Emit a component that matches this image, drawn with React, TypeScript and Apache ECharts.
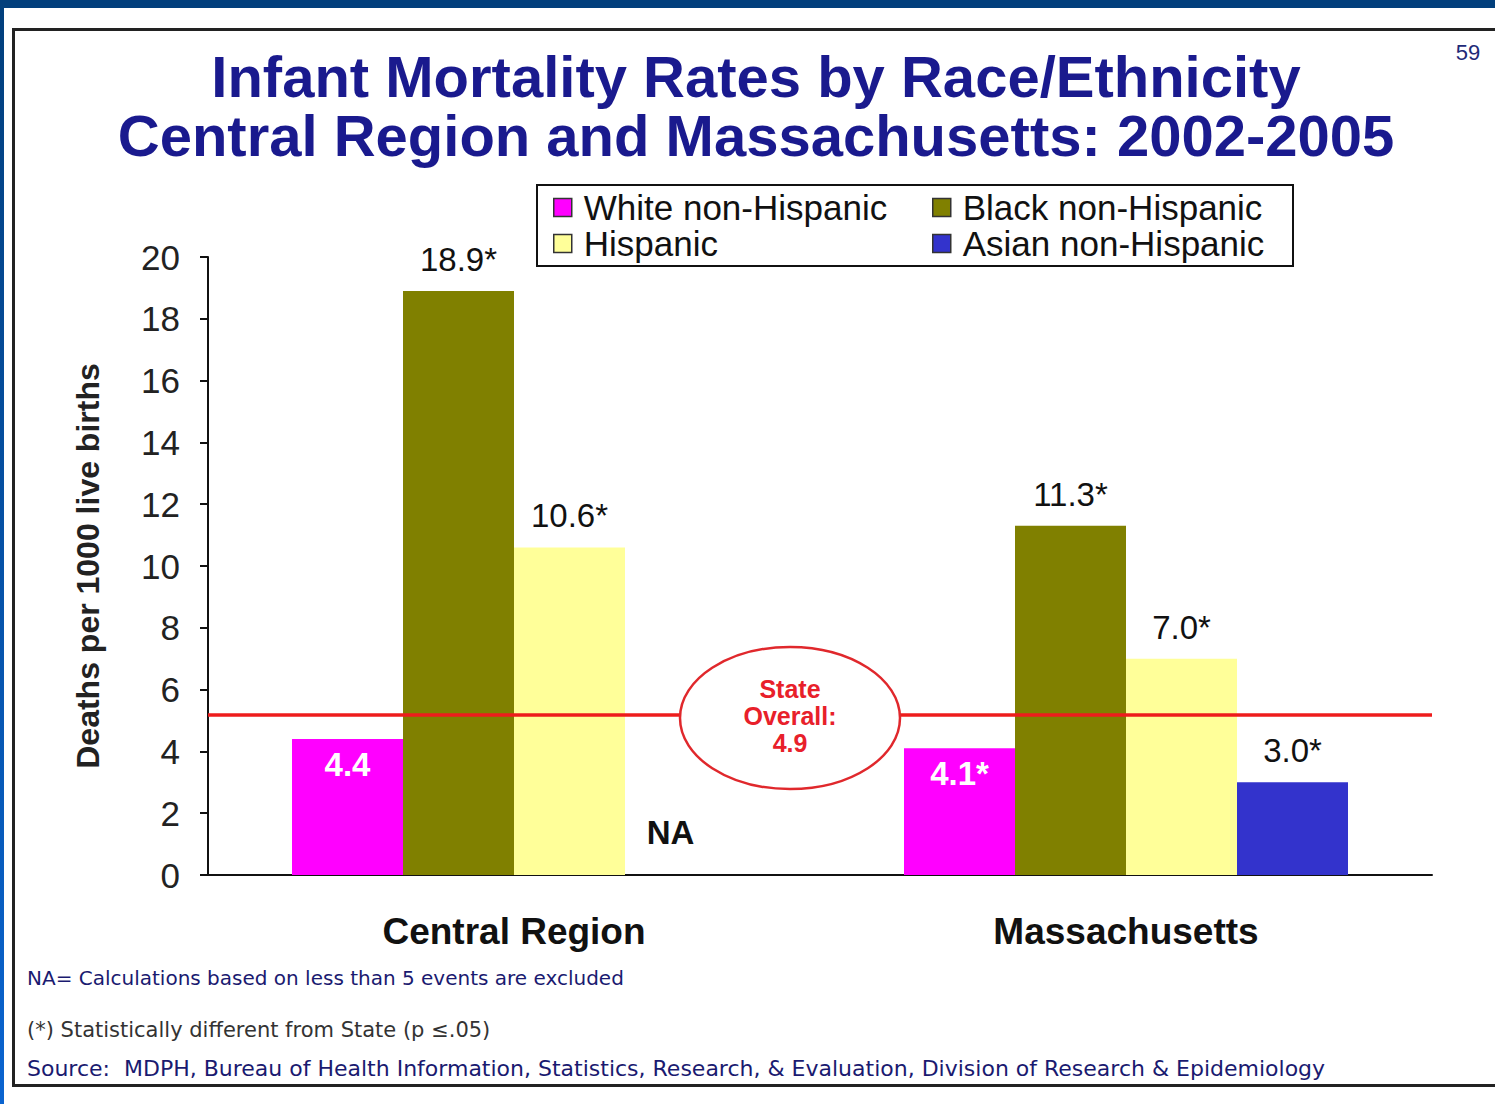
import React, { useEffect, useRef } from "react";
import * as echarts from "echarts";

const categories = ["Central Region", "Massachusetts"];
const seriesNames = ["White non-Hispanic", "Black non-Hispanic", "Hispanic", "Asian non-Hispanic"];
const whiteValues: (number | null)[] = [4.4, 4.1];
const blackValues: (number | null)[] = [18.9, 11.3];
const hispanicValues: (number | null)[] = [10.6, 7.0];
const asianValues: (number | null)[] = [null, 3.0];
const whiteSig = [false, true];
const blackSig = [true, true];
const hispanicSig = [true, true];
const asianSig = [false, true];
const seriesColors = ["#ff00ff", "#808000", "#ffff99", "#3333cc"];
const yMin = 0;
const yMax = 20;
const yInterval = 2;
const stateOverall = 4.9;
const stateLineLevel = 5.2; // level at which the red reference line is drawn in the picture

const titleLines = [
  "Infant Mortality Rates by Race/Ethnicity",
  "Central Region and Massachusetts: 2002-2005",
];
const notes = [
  "NA= Calculations based on less than 5 events are excluded",
  "(*) Statistically different from State (p \u2264.05)",
  "Source:  MDPH, Bureau of Health Information, Statistics, Research, & Evaluation, Division of Research & Epidemiology",
];

const FONT = "'Liberation Sans', Arial, sans-serif";
const NOTE_FONT = "'DejaVu Sans', Verdana, sans-serif";

function buildSeries(
  name: string,
  values: (number | null)[],
  sig: boolean[],
  color: string,
  inside: boolean
) {
  const data = values.map((v) =>
    v == null
      ? {
          value: 0,
          itemStyle: { color: "transparent", borderWidth: 0 },
          label: {
            show: true,
            position: "top",
            distance: 26,
            offset: [-10, 0],
            formatter: "NA",
            fontWeight: "bold",
            color: "#111",
            fontSize: 33,
          },
        }
      : { value: v }
  );
  return {
    name,
    type: "bar",
    barWidth: 111,
    barGap: "0%",
    itemStyle: { color },
    data,
    label: {
      show: true,
      position: inside ? "insideTop" : "top",
      distance: inside ? 9 : 15,
      color: inside ? "#ffffff" : "#111111",
      fontWeight: inside ? "bold" : "normal",
      fontSize: 33,
      fontFamily: FONT,
      formatter: (p: any) => {
        const v = values[p.dataIndex];
        if (v == null) return "NA";
        return v.toFixed(1) + (sig[p.dataIndex] ? "*" : "");
      },
    },
  };
}

export default function App() {
  const ref = useRef<HTMLDivElement>(null);
  useEffect(() => {
    if (!ref.current) return;
    const chart = echarts.init(ref.current, undefined, { renderer: "svg" });
    const series: any[] = [
      buildSeries(seriesNames[0], whiteValues, whiteSig, seriesColors[0], true),
      buildSeries(seriesNames[1], blackValues, blackSig, seriesColors[1], false),
      buildSeries(seriesNames[2], hispanicValues, hispanicSig, seriesColors[2], false),
      buildSeries(seriesNames[3], asianValues, asianSig, seriesColors[3], false),
    ];
    series[0].markLine = {
      silent: true,
      symbol: "none",
      label: { show: false },
      lineStyle: { color: "#ee1c1c", width: 3.5, type: "solid" },
      data: [{ yAxis: stateLineLevel }],
      z: 5,
    };
    const legendCommon = {
      orient: "vertical",
      top: 190,
      padding: 0,
      itemWidth: 18,
      itemHeight: 18,
      itemGap: 1,
      icon: "rect",
      selectedMode: false,
      itemStyle: { borderColor: "#333", borderWidth: 1.5 },
      textStyle: { fontSize: 35, color: "#111", fontFamily: FONT, padding: [0, 0, 0, 7] },
    };
    const titleStyle = {
      fontSize: 58,
      fontWeight: "bold",
      color: "#1a1a8e",
      lineHeight: 58,
      fontFamily: FONT,
    };
    chart.setOption({
      animation: false,
      backgroundColor: "#ffffff",
      textStyle: { fontFamily: FONT },
      title: [
        { text: titleLines[0], left: 756, textAlign: "center", top: 47, padding: 0, textStyle: titleStyle },
        { text: titleLines[1], left: 756, textAlign: "center", top: 106, padding: 0, textStyle: titleStyle },
      ],
      legend: [
        { ...legendCommon, left: 553, data: [seriesNames[0], seriesNames[2]] },
        { ...legendCommon, left: 932, data: [seriesNames[1], seriesNames[3]] },
      ],
      grid: { left: 208, top: 257, width: 1224, bottom: 229, containLabel: false },
      xAxis: {
        type: "category",
        data: categories,
        axisLine: { show: true, lineStyle: { color: "#111", width: 2 } },
        axisTick: { show: false },
        axisLabel: {
          margin: 38,
          fontSize: 37,
          fontWeight: "bold",
          color: "#111",
          fontFamily: FONT,
        },
      },
      yAxis: {
        type: "value",
        min: yMin,
        max: yMax,
        interval: yInterval,
        name: "Deaths per 1000 live births",
        nameLocation: "middle",
        nameGap: 104,
        nameTextStyle: { fontSize: 32, fontWeight: "bold", color: "#222", fontFamily: FONT },
        axisLine: { show: true, lineStyle: { color: "#111", width: 2 } },
        axisTick: { show: true, length: 8, inside: false, lineStyle: { color: "#111", width: 2 } },
        axisLabel: { margin: 28, fontSize: 35, color: "#222", fontFamily: FONT },
        splitLine: { show: false },
      },
      series,
      graphic: [
        {
          type: "rect",
          z: 0,
          shape: { x: 0, y: 0, width: 1495, height: 8 },
          style: { fill: "#023f7c" },
        },
        {
          type: "rect",
          z: 0,
          shape: { x: 0, y: 0, width: 4, height: 1104 },
          style: {
            fill: new echarts.graphic.LinearGradient(0, 0, 0, 1, [
              { offset: 0, color: "#023f7c" },
              { offset: 1, color: "#0a64d0" },
            ]),
          },
        },
        {
          type: "rect",
          z: 0,
          shape: { x: 13.5, y: 29.5, width: 1500, height: 1056 },
          style: { fill: "none", stroke: "#222", lineWidth: 3 },
        },
        {
          type: "rect",
          z: 0,
          shape: { x: 537, y: 185, width: 756, height: 81 },
          style: { fill: "none", stroke: "#111", lineWidth: 2 },
        },
        {
          type: "ellipse",
          z: 100,
          shape: { cx: 790, cy: 718, rx: 110, ry: 71 },
          style: { fill: "#ffffff", stroke: "#e0282c", lineWidth: 2.5 },
        },
        {
          type: "text",
          z: 101,
          x: 790,
          y: 716,
          style: {
            text: "State\nOverall:\n" + stateOverall.toFixed(1),
            fill: "#e8202a",
            font: "bold 25px " + FONT,
            lineHeight: 27,
            align: "center",
            verticalAlign: "middle",
          },
        },
        {
          type: "text",
          z: 101,
          x: 1468,
          y: 52,
          style: {
            text: "59",
            fill: "#1e2a78",
            font: "22px " + FONT,
            align: "center",
            verticalAlign: "middle",
          },
        },
        {
          type: "text",
          z: 101,
          x: 27,
          y: 978,
          style: { text: notes[0], fill: "#1a1a70", font: "20px " + NOTE_FONT, align: "left", verticalAlign: "middle" },
        },
        {
          type: "text",
          z: 101,
          x: 27,
          y: 1030,
          style: { text: notes[1], fill: "#333333", font: "21px " + NOTE_FONT, align: "left", verticalAlign: "middle" },
        },
        {
          type: "text",
          z: 101,
          x: 27,
          y: 1068,
          style: { text: notes[2], fill: "#1a1a70", font: "22px " + NOTE_FONT, align: "left", verticalAlign: "middle" },
        },
      ],
    });
    return () => chart.dispose();
  }, []);
  return (
    <div
      ref={ref}
      style={{ position: "fixed", left: 0, top: 0, width: 1495, height: 1104, background: "#fff" }}
    />
  );
}
